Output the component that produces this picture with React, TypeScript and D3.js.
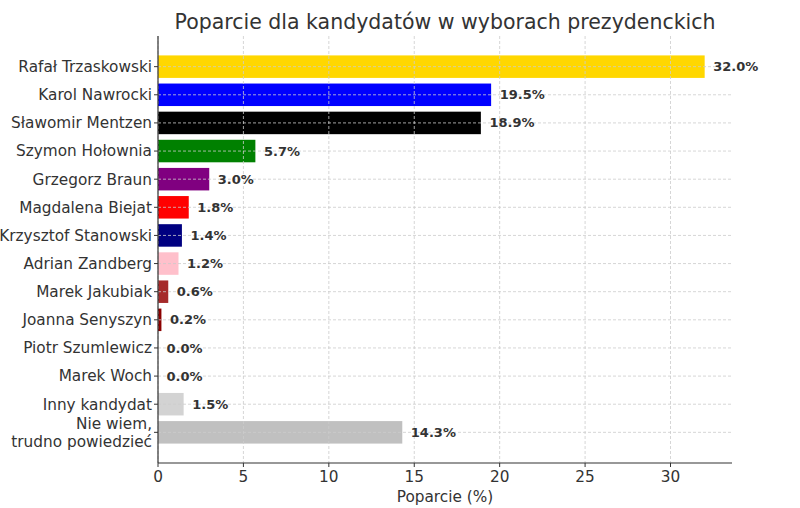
import React from "react";
import * as d3 from "d3";

const candidates = [
  "Rafał Trzaskowski",
  "Karol Nawrocki",
  "Sławomir Mentzen",
  "Szymon Hołownia",
  "Grzegorz Braun",
  "Magdalena Biejat",
  "Krzysztof Stanowski",
  "Adrian Zandberg",
  "Marek Jakubiak",
  "Joanna Senyszyn",
  "Piotr Szumlewicz",
  "Marek Woch",
  "Inny kandydat",
  "Nie wiem,\ntrudno powiedzieć",
];
const support = [32.0, 19.5, 18.9, 5.7, 3.0, 1.8, 1.4, 1.2, 0.6, 0.2, 0.0, 0.0, 1.5, 14.3];
const colors = [
  "#FFD700", "#0000FF", "#000000", "#008000", "#800080", "#FF0000", "#000080",
  "#FFC0CB", "#A52A2A", "#8B0000", "#808080", "#808080", "#D3D3D3", "#C0C0C0",
];
const xTicks = [0, 5, 10, 15, 20, 25, 30];

export default function App() {
  const W = 800, H = 508;
  const left = 158, right = 732, top = 36, bottom = 463;
  const n = candidates.length;
  const x = d3.scaleLinear().domain([0, 32 * 1.05]).range([left, right]);
  const pad = 0.05 * (n - 1 + 0.8);
  const y = d3.scaleLinear().domain([-0.4 - pad, n - 1 + 0.4 + pad]).range([top, bottom]);
  const bh = y(0.4) - y(-0.4);
  const font = "DejaVu Sans, sans-serif";
  const grid = "#cccccc";
  return (
    <svg width={W} height={H} style={{ position: "absolute", left: 0, top: 0 }} fontFamily={font}>
      <rect width={W} height={H} fill="#fff" />
      <text x={445} y={29} textAnchor="middle" fontSize={20.5} fill="#333">
        Poparcie dla kandydatów w wyborach prezydenckich
      </text>
      {support.map((v, i) => (
        <rect key={i} x={x(0)} y={y(i) - bh / 2} width={x(v) - x(0)} height={bh} fill={colors[i]} />
      ))}
      {xTicks.map((t) => (
        <line key={"gx" + t} x1={x(t)} x2={x(t)} y1={top} y2={bottom} stroke={grid} strokeDasharray="3,2" strokeWidth={0.8} />
      ))}
      {candidates.map((c, i) => (
        <line key={"gy" + i} x1={left} x2={right} y1={y(i)} y2={y(i)} stroke={grid} strokeDasharray="3,2" strokeWidth={0.8} />
      ))}
      <line x1={left} x2={left} y1={top} y2={bottom} stroke="#333" strokeWidth={1.2} />
      <line x1={left} x2={right} y1={bottom} y2={bottom} stroke="#333" strokeWidth={1.2} />
      {xTicks.map((t) => (
        <g key={"tx" + t}>
          <line x1={x(t)} x2={x(t)} y1={bottom} y2={bottom + 4} stroke="#333" />
          <text x={x(t)} y={bottom + 19} textAnchor="middle" fontSize={15.3} fill="#333">{t}</text>
        </g>
      ))}
      {candidates.map((c, i) => {
        const lines = c.split("\n");
        return (
          <g key={"ty" + i}>
            <line x1={left - 4} x2={left} y1={y(i)} y2={y(i)} stroke="#333" />
            <text x={left - 6} y={y(i)} textAnchor="end" fontSize={15.3} fill="#333">
              {lines.map((l, k) => (
                <tspan key={k} x={left - 6} dy={k === 0 ? (lines.length === 1 ? "0.35em" : `${0.35 - 0.58}em`) : "1.16em"}>{l}</tspan>
              ))}
            </text>
          </g>
        );
      })}
      {support.map((v, i) => (
        <text key={"vl" + i} x={x(v + 0.5)} y={y(i)} dy="0.35em" fontSize={13} fontWeight="bold" fill="#333">
          {v.toFixed(1)}%
        </text>
      ))}
      <text x={445} y={502} textAnchor="middle" fontSize={15.3} fill="#333">Poparcie (%)</text>
    </svg>
  );
}
